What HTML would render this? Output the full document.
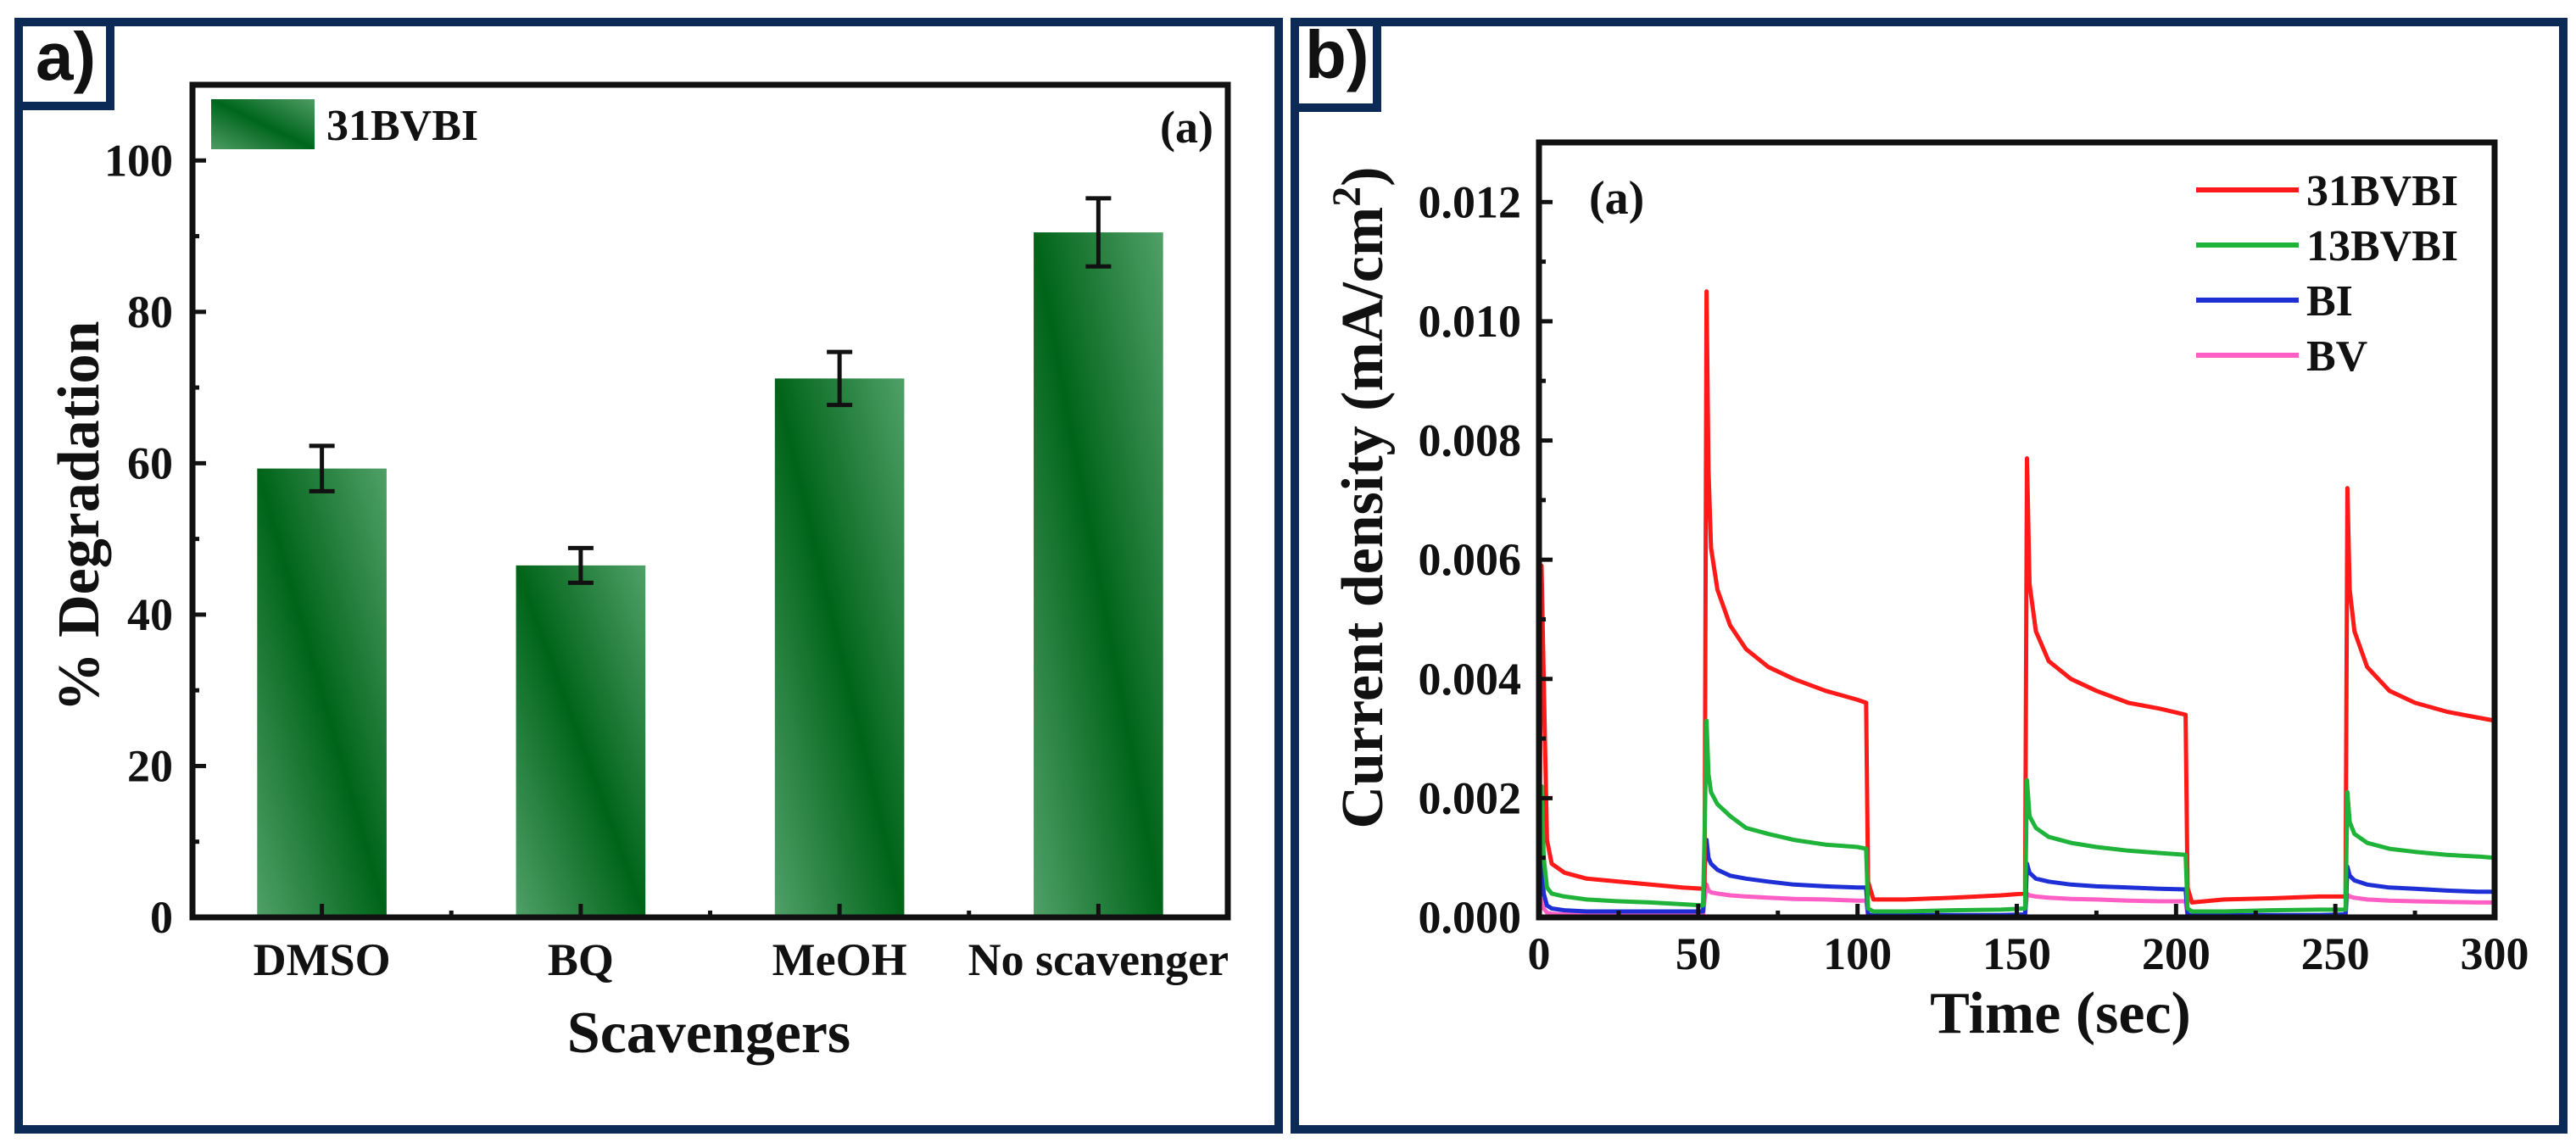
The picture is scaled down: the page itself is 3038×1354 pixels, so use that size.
<!DOCTYPE html>
<html><head><meta charset="utf-8">
<style>
html,body{margin:0;padding:0;background:#fff;}
svg{display:block;}
text{font-family:"Liberation Serif",serif;font-weight:bold;fill:#111;}
.lab{font-family:"Liberation Sans",sans-serif;font-weight:bold;}
</style></head>
<body>
<svg id="fig" width="3038" height="1354" viewBox="0 0 3038 1354" xmlns="http://www.w3.org/2000/svg">
<defs>
<linearGradient id="barGrad" x1="0" y1="1" x2="1" y2="0">
<stop offset="0" stop-color="#50a068"/>
<stop offset="0.5" stop-color="#006418"/>
<stop offset="1" stop-color="#50a068"/>
</linearGradient>
<linearGradient id="legGrad" x1="0" y1="1" x2="1" y2="0">
<stop offset="0" stop-color="#4e9c64"/>
<stop offset="0.5" stop-color="#00661c"/>
<stop offset="1" stop-color="#4e9c64"/>
</linearGradient>
</defs>
<rect x="22" y="26" width="1486" height="1306" fill="none" stroke="#0b2a55" stroke-width="10"/>
<rect x="1527" y="26" width="1496" height="1306" fill="none" stroke="#0b2a55" stroke-width="10"/>
<rect x="22" y="26" width="108" height="99" fill="#fff" stroke="#0b2a55" stroke-width="10"/>
<text class="lab" x="42" y="94" font-size="80" font-weight="600">a)</text>
<rect x="1527" y="26" width="97" height="101" fill="#fff" stroke="#0b2a55" stroke-width="10"/>
<text class="lab" x="1539" y="92" font-size="80" font-weight="600">b)</text>
<g id="chartA"></g>
<g id="chartB"></g>
</svg>
<script>
// ---------- Chart A data ----------
const catsA = ["DMSO","BQ","MeOH","No scavenger"];
const valsA = [59.3, 46.5, 71.2, 90.5];
const errsA = [3.0, 2.3, 3.5, 4.5];
const yTicksA = [0,20,40,60,80,100];

// ---------- Chart B data ----------
const timeB = [0,0.8,1.5,2.5,4,8,15,25,35,45,51.5,52,52.6,53.2,54,56,60,65,72,80,90,100,102.7,103.3,105,115,130,145,152.6,153.2,154,156,160,167,175,185,195,203,203.6,205,215,230,245,253.2,253.8,254.5,256,260,267,275,285,295,300];
const red31 = [0,5.9,4.0,1.3,0.9,0.75,0.65,0.6,0.55,0.5,0.48,0.5,10.5,7.5,6.2,5.5,4.9,4.5,4.2,4.0,3.8,3.65,3.6,0.6,0.3,0.3,0.33,0.37,0.4,7.7,5.6,4.8,4.3,4.0,3.8,3.6,3.5,3.4,0.5,0.25,0.3,0.32,0.35,0.35,7.2,5.5,4.8,4.2,3.8,3.6,3.45,3.35,3.3];
const green13 = [0,2.2,1.0,0.5,0.4,0.35,0.3,0.27,0.25,0.22,0.2,1.4,3.3,2.4,2.1,1.9,1.7,1.5,1.4,1.3,1.22,1.18,1.15,0.15,0.1,0.1,0.12,0.13,0.15,2.3,1.7,1.5,1.35,1.25,1.18,1.12,1.08,1.05,0.15,0.1,0.1,0.12,0.13,0.13,2.1,1.6,1.4,1.25,1.15,1.1,1.05,1.02,1.0];
const blueBI = [0,0.9,0.4,0.2,0.15,0.12,0.1,0.1,0.1,0.1,0.1,0.8,1.3,1.0,0.9,0.8,0.7,0.65,0.6,0.55,0.52,0.5,0.5,0.05,0.03,0.04,0.04,0.04,0.05,0.9,0.75,0.65,0.6,0.55,0.52,0.5,0.48,0.47,0.05,0.03,0.04,0.04,0.04,0.05,0.85,0.7,0.62,0.55,0.5,0.48,0.45,0.43,0.43];
const pinkBV = [0,0.3,0.15,0.08,0.06,0.05,0.04,0.04,0.04,0.04,0.04,0.3,0.55,0.45,0.42,0.4,0.37,0.35,0.33,0.31,0.3,0.28,0.28,0.03,0.02,0.02,0.02,0.03,0.03,0.4,0.37,0.35,0.33,0.31,0.3,0.28,0.27,0.27,0.03,0.02,0.02,0.02,0.03,0.03,0.38,0.35,0.33,0.3,0.28,0.27,0.26,0.25,0.25];
const seriesNames = ["31BVBI","13BVBI","BI","BV"];
const xTicksB = [0,50,100,150,200,250,300];
const yTicksB = ["0.000","0.002","0.004","0.006","0.008","0.010","0.012"];

const NS = "http://www.w3.org/2000/svg";
function mk(parent, tag, attrs, txt){
  const e = document.createElementNS(NS, tag);
  for (const k in attrs) e.setAttribute(k, attrs[k]);
  if (txt !== undefined) e.textContent = txt;
  parent.appendChild(e);
  return e;
}

// ---------------- Chart A ----------------
(function(){
  const g = document.getElementById("chartA");
  const L=227, R=1448, T=100, B=1082, yMax=110;
  const y = v => B - v/yMax*(B-T);
  const band = (R-L)/catsA.length;
  const xc = i => L + band*(i+0.5);
  const bw = band*0.5;
  for (let i=0;i<catsA.length;i++){
    const r = mk(g,"rect",{x:xc(i)-bw/2,y:y(valsA[i]),width:bw,height:B-y(valsA[i]),fill:"url(#barGrad)"});
    
    
    const eg = mk(g,"g",{stroke:"#111","stroke-width":5});
    
    
    const hi=y(valsA[i]+errsA[i]), lo=y(valsA[i]-errsA[i]);
    mk(eg,"line",{x1:xc(i),x2:xc(i),y1:hi,y2:lo});
    mk(eg,"line",{x1:xc(i)-15,x2:xc(i)+15,y1:hi,y2:hi});
    mk(eg,"line",{x1:xc(i)-15,x2:xc(i)+15,y1:lo,y2:lo});
    const t = mk(g,"text",{x:xc(i),y:1150,"font-size":54,"text-anchor":"middle"},catsA[i]);
    
    
    mk(g,"line",{x1:xc(i),x2:xc(i),y1:B,y2:B-16,stroke:"#111","stroke-width":5});
    if (i>0) mk(g,"line",{x1:L+band*i,x2:L+band*i,y1:B,y2:B-8,stroke:"#111","stroke-width":5});
  }
  for (const v of yTicksA){
    mk(g,"line",{x1:L,x2:L+16,y1:y(v),y2:y(v),stroke:"#111","stroke-width":5});
    mk(g,"line",{x1:L,x2:L+8,y1:y(v+10),y2:y(v+10),stroke:"#111","stroke-width":5});
    const t = mk(g,"text",{x:204,y:y(v)+18,"font-size":54,"text-anchor":"end"},String(v));
    
    
  }
  const ax = mk(g,"rect",{x:L,y:T,width:R-L,height:B-T,fill:"none",stroke:"#111","stroke-width":7});
  
  
  const yt = mk(g,"text",{x:0,y:0,"font-size":70,"text-anchor":"middle",transform:"translate(116,609) rotate(-90)"},"% Degradation");
  
  
  const xt = mk(g,"text",{x:836,y:1241,"font-size":70,"text-anchor":"middle"},"Scavengers");
  
  
  const sw = mk(g,"rect",{x:249,y:117,width:122,height:59,fill:"url(#legGrad)"});
  
  
  const lt = mk(g,"text",{x:385,y:165,"font-size":52},"31BVBI");
  
  
  const pa = mk(g,"text",{x:1431,y:168,"font-size":54,"text-anchor":"end"},"(a)");
  
  
})();

// ---------------- Chart B ----------------
(function(){
  const g = document.getElementById("chartB");
  const L=1815, R=2942, T=168, B=1082, xMax=300, yMax=0.013;
  const x = t => L + t/xMax*(R-L);
  const y = v => B - v/yMax*(B-T);
  const series = [red31, green13, blueBI, pinkBV];
  const colors = ["#ff1a1a","#1fb33a","#1f2fd6","#ff5fc4"];
  const order = [3,2,0,1];
  for (const s of order){
    let d="";
    for (let i=0;i<timeB.length;i++){
      d += (i?"L":"M") + x(timeB[i]).toFixed(1) + " " + y(series[s][i]*0.001).toFixed(1);
    }
    const p = mk(g,"path",{d:d,fill:"none",stroke:colors[s],"stroke-width":5,"stroke-linejoin":"round"});
    
    
  }
  for (const t of xTicksB){
    mk(g,"line",{x1:x(t),x2:x(t),y1:B,y2:B-16,stroke:"#111","stroke-width":5});
    if (t<300) mk(g,"line",{x1:x(t+25),x2:x(t+25),y1:B,y2:B-8,stroke:"#111","stroke-width":5});
    const tl = mk(g,"text",{x:x(t),y:1143,"font-size":54,"text-anchor":"middle"},String(t));
    
    
  }
  for (const s of yTicksB){
    const v = parseFloat(s);
    mk(g,"line",{x1:L,x2:L+16,y1:y(v),y2:y(v),stroke:"#111","stroke-width":5});
    mk(g,"line",{x1:L,x2:L+8,y1:y(v+0.001),y2:y(v+0.001),stroke:"#111","stroke-width":5});
    const tl = mk(g,"text",{x:1794,y:y(v)+18,"font-size":54,"text-anchor":"end"},s);
    
    
  }
  const ax = mk(g,"rect",{x:L,y:T,width:R-L,height:B-T,fill:"none",stroke:"#111","stroke-width":7});
  
  
  const ly=[224,289,354,419];
  for (let s=0;s<4;s++){
    const ll = mk(g,"line",{x1:2590,x2:2711,y1:ly[s],y2:ly[s],stroke:colors[s],"stroke-width":6});
    
    
    const lt = mk(g,"text",{x:2720,y:ly[s]+18,"font-size":52},seriesNames[s]);
    
    
  }
  const pa = mk(g,"text",{x:1874,y:252,"font-size":56},"(a)");
  
  
  const xt = mk(g,"text",{x:2430,y:1218,"font-size":70,"text-anchor":"middle"},"Time (sec)");
  
  
  const yt = mk(g,"text",{x:0,y:0,"font-size":70,"text-anchor":"middle",transform:"translate(1630,587) rotate(-90)"});
  
  
  yt.appendChild(document.createTextNode("Current density (mA/cm"));
  mk(yt,"tspan",{dy:-26,"font-size":48},"2");
  mk(yt,"tspan",{dy:26},")");
})();
</script>
</body></html>
